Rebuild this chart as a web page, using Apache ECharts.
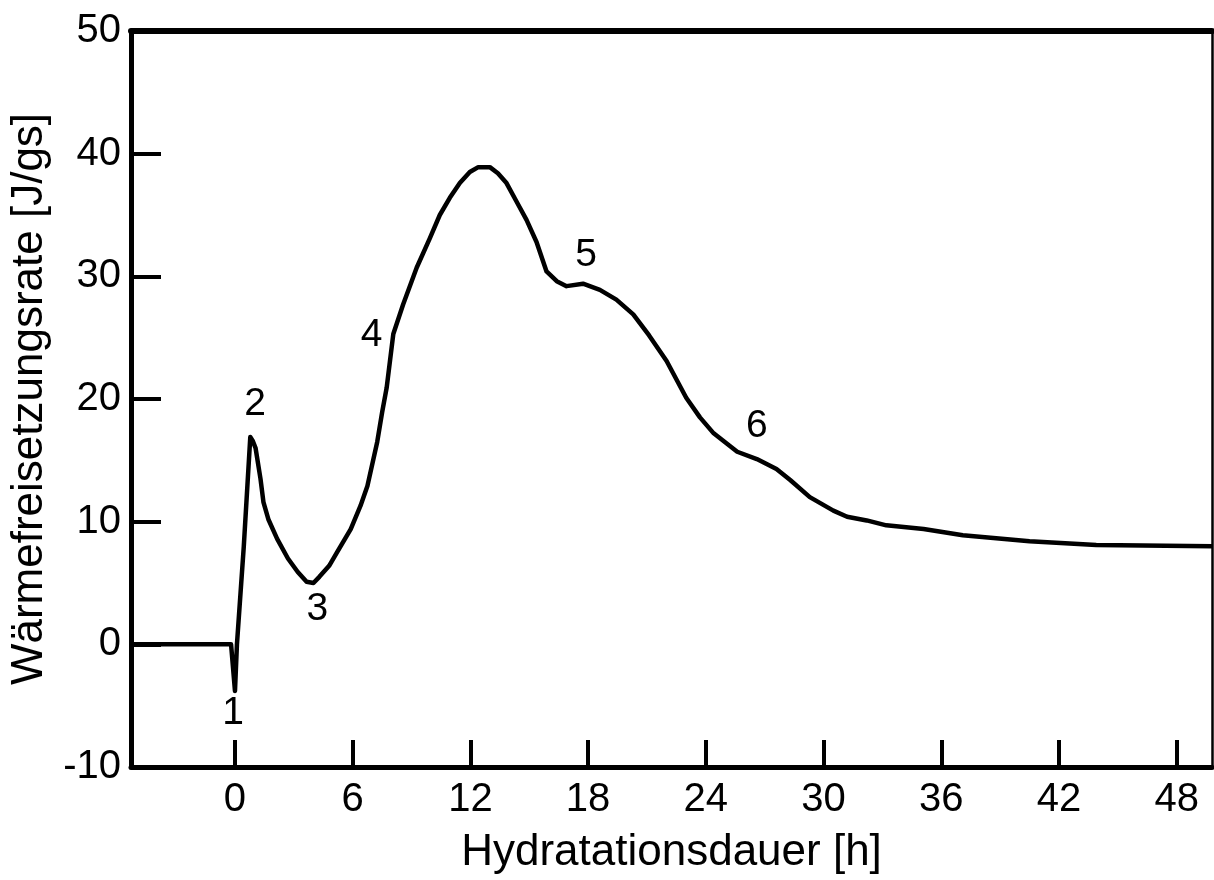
<!DOCTYPE html>
<html>
<head>
<meta charset="utf-8">
<script src="https://cdn.jsdelivr.net/npm/echarts@6/dist/echarts.min.js"></script>
<style>
  html, body { margin: 0; padding: 0; background: #fff; }
  #chart { width: 1214px; height: 880px; }
</style>
</head>
<body>
<div id="chart"></div>
<script>
// Hydratationsdauer [h]
const hours = [-5.3, -0.2, 0, 0.1, 0.45, 0.78, 0.9, 1.05, 1.3, 1.45, 1.7, 2.15, 2.7, 3.2, 3.65, 4.0, 4.3,
  4.8, 5.2, 5.9, 6.4, 6.75, 7.25, 7.5, 7.73, 8.07, 8.57, 9.26, 9.93, 10.44, 10.95, 11.46, 11.97,
  12.4, 12.99, 13.4, 13.84, 14.35, 14.86, 15.37, 15.88, 16.4, 16.9, 17.74, 18.6, 19.44, 20.3, 21.1,
  22.0, 23.0, 23.7, 24.4, 25.6, 26.6, 27.6, 28.3, 29.3, 30.5, 31.2, 32.2, 33.2, 35.1, 37.1, 40.5,
  43.9, 49.8]
// Wärmefreisetzungsrate [J/gs]
const rate = [0, 0, -3.8, 0, 8, 16.9, 16.6, 16.0, 13.5, 11.6, 10.2, 8.6, 7.0, 5.9, 5.1, 5.0, 5.5,
  6.4, 7.5, 9.4, 11.3, 12.9, 16.5, 18.9, 20.9, 25.3, 27.7, 30.7, 33.1, 35.0, 36.4, 37.6, 38.5,
  38.9, 38.9, 38.4, 37.6, 36.1, 34.6, 32.8, 30.4, 29.6, 29.2, 29.4, 28.9, 28.1, 26.9, 25.2,
  23.1, 20.1, 18.5, 17.2, 15.7, 15.1, 14.3, 13.4, 12.0, 10.9, 10.4, 10.1, 9.7, 9.4, 8.9, 8.4,
  8.1, 8.0]
// Phasen-Markierungen
const phaseNames = ['1', '2', '3', '4', '5', '6']
const phaseX = [-0.1, 1.02, 4.2, 6.96, 17.9, 26.6]
const phaseY = [-5.6, 19.6, 2.9, 25.2, 31.7, 17.8]
// Achsenbeschriftung
const xTicks = [0, 6, 12, 18, 24, 30, 36, 42, 48]
const xRange = [-5.3, 49.8]
const yRange = [-10, 50]

const FONT = 'Liberation Sans, Arial, Helvetica, sans-serif'
const chart = echarts.init(document.getElementById('chart'))

const option = {
  backgroundColor: '#fff',
  animation: false,
  grid: { left: 131, right: 2, top: 31, bottom: 110, containLabel: false },
  xAxis: [
    {
      type: 'value',
      min: xRange[0],
      max: xRange[1],
      name: 'Hydratationsdauer [h]',
      nameLocation: 'middle',
      nameGap: 64,
      nameTextStyle: { color: '#000', fontSize: 44, fontFamily: FONT },
      axisLine: { show: true, onZero: false, lineStyle: { color: '#000', width: 5 } },
      axisTick: { show: true, inside: true, length: 27, customValues: xTicks, lineStyle: { color: '#000', width: 4 } },
      axisLabel: { show: true, customValues: xTicks, margin: 13, color: '#000', fontSize: 40, fontFamily: FONT },
      splitLine: { show: false }
    },
    {
      type: 'value',
      position: 'top',
      min: xRange[0],
      max: xRange[1],
      axisLine: { show: true, onZero: false, lineStyle: { color: '#000', width: 6 } },
      axisTick: { show: false },
      axisLabel: { show: false },
      splitLine: { show: false }
    }
  ],
  yAxis: [
    {
      type: 'value',
      min: yRange[0],
      max: yRange[1],
      interval: 10,
      name: 'Wärmefreisetzungsrate [J/gs]',
      nameLocation: 'middle',
      nameGap: 78,
      nameTextStyle: { color: '#000', fontSize: 44, fontFamily: FONT },
      axisLine: { show: true, onZero: false, lineStyle: { color: '#000', width: 5 } },
      axisTick: { show: true, inside: true, length: 30, lineStyle: { color: '#000', width: 4 } },
      axisLabel: { show: true, margin: 10, color: '#000', fontSize: 40, fontFamily: FONT },
      splitLine: { show: false }
    },
    {
      type: 'value',
      position: 'right',
      min: yRange[0],
      max: yRange[1],
      axisLine: { show: true, onZero: false, lineStyle: { color: '#000', width: 2.5 } },
      axisTick: { show: false },
      axisLabel: { show: false },
      splitLine: { show: false }
    }
  ],
  series: [
    {
      type: 'line',
      data: hours.map((h, i) => [h, rate[i]]),
      showSymbol: false,
      smooth: false,
      lineStyle: { color: '#000', width: 4.5, join: 'round' },
      clip: true
    },
    {
      type: 'scatter',
      data: phaseNames.map((n, i) => ({ name: n, value: [phaseX[i], phaseY[i]] })),
      symbol: 'circle',
      symbolSize: 0,
      itemStyle: { color: '#000' },
      label: {
        show: true,
        position: 'inside',
        formatter: (p) => p.name,
        color: '#000',
        opacity: 1,
        textBorderWidth: 0,
        fontSize: 39,
        fontFamily: FONT
      },
      silent: true
    }
  ]
}

chart.setOption(option)
</script>
</body>
</html>
